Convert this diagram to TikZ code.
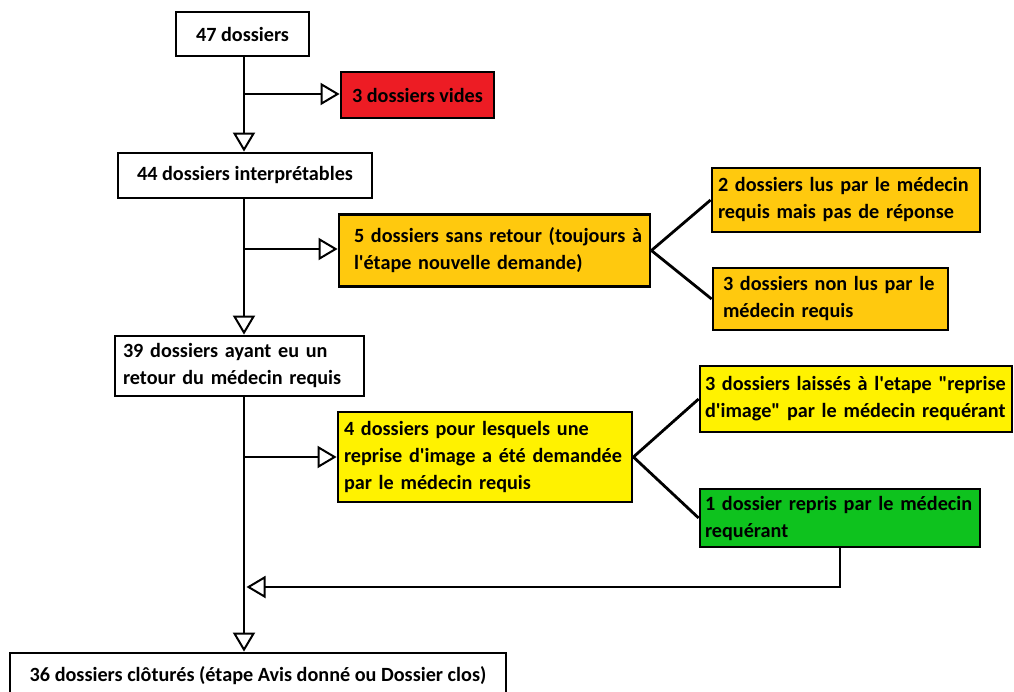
\documentclass[tikz,border=0pt]{standalone}
\usepackage{fontspec}
\setmainfont{Carlito}
\usetikzlibrary{arrows.meta}
\definecolor{cred}{HTML}{ED1C24}
\definecolor{corange}{HTML}{FFC90E}
\definecolor{cyellow}{HTML}{FFF200}
\definecolor{cgreen}{HTML}{0EC21E}
\newcommand{\sq}{\textquotesingle}
\newcommand{\dq}{\textquotedbl}
\begin{document}
\begin{tikzpicture}[x=1pt,y=-1pt,
  bx/.style={draw=black, line width=2.8pt, font=\fontsize{20.2}{27}\selectfont\bfseries, inner ysep=0pt, fill=white},
  lbx/.style={bx, align=left},
  conn/.style={line width=2.8pt},
  arr/.style={conn, -{Triangle[open, length=19pt, width=22pt, line width=2pt]}}
]
\useasboundingbox (0,0) rectangle (1014,692);
\coordinate (trunk) at (244,0);

\node[bx, minimum width=133pt, minimum height=44pt] (A) at (242.5,34) {47 dossiers};
\node[bx, fill=cred, minimum width=153pt, minimum height=46pt] (B) at (417.5,95) {3 dossiers vides};
\node[bx, minimum width=254pt, minimum height=45pt] (C) at (245,175.5) {44 dossiers interprétables};
\node[lbx, fill=corange, inner xsep=15pt, text width=281pt, minimum height=72pt] (D) at (494.5,250.5)
  {\mbox{5 dossiers sans retour (toujours à}\\\mbox{l\sq étape nouvelle demande)}};
\node[lbx, fill=corange, inner xsep=6pt, text width=256pt, minimum height=64pt] (E) at (846,200)
  {\mbox{2 dossiers lus par le médecin}\\\mbox{requis mais pas de réponse}};
\node[lbx, fill=corange, inner xsep=10pt, text width=215pt, minimum height=62pt] (F) at (830.5,299)
  {\mbox{3 dossiers non lus par le}\\\mbox{médecin requis}};
\node[lbx, inner xsep=8pt, text width=233pt, minimum height=60pt] (G) at (239.5,366)
  {\mbox{39 dossiers ayant eu un}\\\mbox{retour du médecin requis}};
\node[lbx, fill=cyellow, inner xsep=6pt, text width=282pt, minimum height=90pt] (H) at (485,457)
  {\mbox{4 dossiers pour lesquels une}\\\mbox{reprise d\sq image a été demandée}\\\mbox{par le médecin requis}};
\node[lbx, fill=cyellow, inner xsep=5pt, text width=302pt, minimum height=66pt] (I) at (856,399)
  {\mbox{3 dossiers laissés à l\sq etape \dq reprise}\\\mbox{d\sq image\dq{} par le médecin requérant}};
\node[lbx, fill=cgreen, inner xsep=5pt, text width=270pt, minimum height=58pt] (J) at (840,518)
  {\mbox{1 dossier repris par le médecin}\\\mbox{requérant}};
\node[bx, minimum width=496pt, minimum height=46pt] (K) at (258,676)
  {36 dossiers clôturés (étape Avis donné ou Dossier clos)};

\coordinate (b1) at (244,94);
\coordinate (b2) at (244,249);
\coordinate (b3) at (244,457);
\coordinate (b4) at (246.5,587);

\draw[arr] (A.south -| trunk) -- (C.north -| trunk);
\draw[arr] (b1) -- (b1 -| B.west);
\draw[arr] (C.south -| trunk) -- (G.north -| trunk);
\draw[arr] (b2) -- (b2 -| D.west);
\draw[conn] (D.east) -- (E.west);
\draw[conn] (D.east) -- (F.west);
\draw[arr] (G.south -| trunk) -- (K.north -| trunk);
\draw[arr] (b3) -- (b3 -| H.west);
\draw[conn] (H.east) -- (I.west);
\draw[conn] (H.east) -- (J.west);
\draw[arr] (J.south) -- (J.south |- b4) -- (b4);
\end{tikzpicture}
\end{document}
